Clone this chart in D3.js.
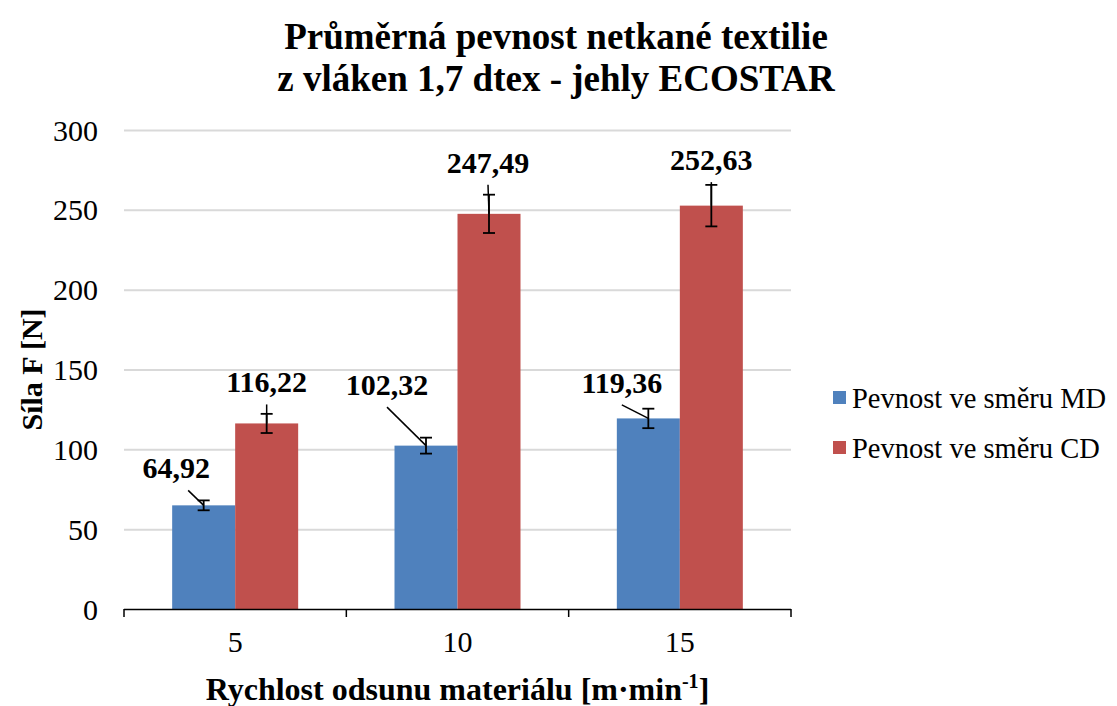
<!DOCTYPE html>
<html><head><meta charset="utf-8">
<script src="https://cdn.jsdelivr.net/npm/d3@7"></script>
<style>body{margin:0;background:#fff;} svg{display:block;font-family:"Liberation Serif","Times New Roman",serif;}</style>
</head><body>
<svg id="c" width="1117" height="706"></svg>
<script>
// ---- data ----
const categories = ["5", "10", "15"];
const seriesNames = ["Pevnost ve směru MD", "Pevnost ve směru CD"];
const valuesMD = [64.92, 102.32, 119.36];
const valuesCD = [116.22, 247.49, 252.63];
const errorsMD = [3.1, 5.0, 6.1];
const errorsCD = [6.0, 12.0, 13.0];
const yTicks = [0, 50, 100, 150, 200, 250, 300];
const labelText = ["64,92", "102,32", "119,36", "116,22", "247,49", "252,63"];

// ---- layout (not data) ----
const colors = ["#4F81BD", "#C0504D"];
const plot = {left: 124, right: 791, top: 130, bottom: 609};
// label offsets relative to bar top-center: [dx, dy, leaderStartDx]
const labelOffsets = [
  [[-27.5, -27, 12], [-39, -50.5, 0], [-26.5, -25.5, 0]],
  [[0, -31, 0], [-1, -41, 0], [0, -35.5, 0]]
];

const svg = d3.select("#c");
const x0 = d3.scaleBand().domain(categories).range([plot.left, plot.right]).padding(0);
const x1 = d3.scaleBand().domain([0, 1])
  .range([(x0.bandwidth() - 126) / 2, (x0.bandwidth() + 126) / 2]).padding(0);
const y = d3.scaleLinear().domain([0, 300]).range([plot.bottom, plot.top]);

// gridlines
svg.append("g").selectAll("line").data(yTicks.filter(d => d > 0)).join("line")
  .attr("x1", plot.left).attr("x2", plot.right)
  .attr("y1", d => y(d) + 0.5).attr("y2", d => y(d) + 0.5)
  .attr("stroke", "#D9D9D9").attr("stroke-width", 2);

// y tick labels
svg.append("g").selectAll("text").data(yTicks).join("text")
  .attr("x", 98).attr("y", d => y(d)).attr("dy", "0.35em")
  .attr("text-anchor", "end").attr("font-size", 30).attr("fill", "#000")
  .text(d => d);

// bars
const series = [valuesMD, valuesCD];
const errors = [errorsMD, errorsCD];
series.forEach((vals, si) => {
  svg.append("g").selectAll("rect").data(vals).join("rect")
    .attr("x", (d, i) => x0(categories[i]) + x1(si))
    .attr("width", x1.bandwidth())
    .attr("y", d => y(d))
    .attr("height", d => y(0) - y(d))
    .attr("fill", colors[si]);
});

// x axis
const xAxis = d3.axisBottom(x0).tickSize(0).tickPadding(22);
const gx = svg.append("g").attr("transform", `translate(0,${plot.bottom})`).call(xAxis);
gx.select(".domain").remove();
gx.selectAll("text").attr("font-size", 30).attr("font-family", "Liberation Serif").attr("fill", "#000");
svg.append("line").attr("x1", plot.left).attr("x2", plot.right)
  .attr("y1", plot.bottom + 0.5).attr("y2", plot.bottom + 0.5).attr("stroke", "#000").attr("stroke-width", 1.5);
const bounds = categories.map(c => x0(c)).concat([plot.right]);
svg.append("g").selectAll("line").data(bounds).join("line")
  .attr("x1", d => d).attr("x2", d => d)
  .attr("y1", plot.bottom).attr("y2", plot.bottom + 8)
  .attr("stroke", "#000").attr("stroke-width", 1.5);

// error bars, leader lines and labels
series.forEach((vals, si) => {
  vals.forEach((v, i) => {
    const cx = x0(categories[i]) + x1(si) + x1.bandwidth() / 2;
    const top = y(v);
    const e = errors[si][i];
    const g = svg.append("g").attr("stroke", "#000").attr("stroke-width", 1.8);
    g.append("line").attr("x1", cx).attr("x2", cx).attr("y1", y(v + e)).attr("y2", y(v - e));
    g.append("line").attr("x1", cx - 6).attr("x2", cx + 6).attr("y1", y(v + e)).attr("y2", y(v + e));
    g.append("line").attr("x1", cx - 6).attr("x2", cx + 6).attr("y1", y(v - e)).attr("y2", y(v - e));
    const [dx, dy, ldx] = labelOffsets[si][i];
    const lx = cx + dx, ly = top + dy;
    g.append("line").attr("x1", lx + ldx).attr("y1", ly + 12).attr("x2", cx).attr("y2", top).attr("stroke-width", 1.5);
    svg.append("text").attr("x", lx).attr("y", ly).attr("text-anchor", "middle")
      .attr("font-size", 30).attr("font-weight", "bold").attr("fill", "#000")
      .text(labelText[si * 3 + i]);
  });
});

// title
const title = svg.append("text").attr("text-anchor", "middle").attr("font-size", 37).attr("font-weight", "bold");
title.append("tspan").attr("x", 556).attr("y", 49).text("Průměrná pevnost netkané textilie");
title.append("tspan").attr("x", 556).attr("y", 91).text("z vláken 1,7 dtex - jehly ECOSTAR");

// y axis title
svg.append("text").attr("transform", `translate(42,${(plot.top + plot.bottom) / 2}) rotate(-90)`)
  .attr("text-anchor", "middle").attr("font-size", 30).attr("font-weight", "bold").text("Síla F [N]");

// x axis title
const xt = svg.append("text").attr("x", (plot.left + plot.right) / 2).attr("y", 700)
  .attr("text-anchor", "middle").attr("font-size", 32).attr("font-weight", "bold");
xt.append("tspan").text("Rychlost odsunu materiálu [m·min");
xt.append("tspan").attr("font-size", 20).attr("dy", -12).text("-1");
xt.append("tspan").attr("dy", 12).text("]");

// legend
const leg = svg.append("g").selectAll("g").data(seriesNames).join("g")
  .attr("transform", (d, i) => `translate(833,${398 + i * 50})`);
leg.append("rect").attr("x", 0).attr("y", -7).attr("width", 13).attr("height", 13).attr("fill", (d, i) => colors[i]);
leg.append("text").attr("x", 19).attr("y", 0).attr("dy", "0.35em").attr("font-size", 28.5).text(d => d);
</script>
</body></html>
